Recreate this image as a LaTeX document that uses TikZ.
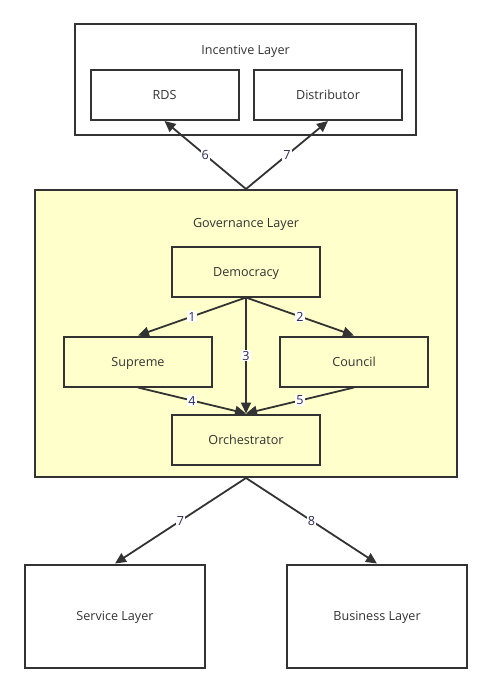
\documentclass[tikz,border=0pt]{standalone}
\usepackage{fontspec}
\setmainfont{Open Sans}
\usetikzlibrary{arrows.meta}
\definecolor{linecolor}{HTML}{333333}
\definecolor{govcolor}{HTML}{FFFFCC}

\begin{document}
\begin{tikzpicture}[
    x=1pt, y=-1pt,
    layer/.style={
        rectangle, draw=linecolor, line width=2pt, fill=#1, inner sep=0pt,
        text depth=0pt, font=\fontsize{12.6}{14}\selectfont, text=linecolor
    },
    module/.style={
        rectangle, draw=linecolor, line width=2pt, fill=#1, inner sep=0pt,
        minimum width=148pt, minimum height=50pt, text depth=0pt,
        font=\fontsize{12.6}{14}\selectfont, text=linecolor
    },
    layertitle/.style={
        text depth=0pt, font=\fontsize{12.6}{14}\selectfont, text=linecolor
    },
    flow/.style={
        -{Triangle[length=11pt, width=10pt]}, line width=1.8pt, color=linecolor
    },
    steplabel/.style={
        fill=white, inner sep=1pt, font=\fontsize{12.6}{14}\selectfont, text=linecolor!85!blue
    }
]
\useasboundingbox (0,0) rectangle (492,691);

% Incentive layer
\node[layer=white, minimum width=341pt, minimum height=111pt] (incentive) at (245.5,79.5) {};
\node[layertitle] (incentivetitle) at (245.5,50) {Incentive Layer};
\node[module=white] (rds) at (164.5,95) {RDS};
\node[module=white] (distributor) at (328,95) {Distributor};

% Governance layer
\node[layer=govcolor, minimum width=422pt, minimum height=287pt] (governance) at (246,333.5) {};
\node[layertitle] (governancetitle) at (246,223) {Governance Layer};
\node[module=govcolor] (democracy) at (246,271.5) {Democracy};
\node[module=govcolor] (supreme) at (138,361.5) {Supreme};
\node[module=govcolor] (council) at (354,361.5) {Council};
\node[module=govcolor] (orchestrator) at (246,439.5) {Orchestrator};

% Lower layers
\node[layer=white, minimum width=180pt, minimum height=103pt] (service) at (115,616) {Service Layer};
\node[layer=white, minimum width=180pt, minimum height=103pt] (business) at (377,616) {Business Layer};

% Governance to incentive
\draw[flow] (governance.north) -- (rds.south) node[steplabel, midway] {6};
\draw[flow] (governance.north) -- (distributor.south) node[steplabel, midway] {7};

% Inside governance
\draw[flow] (democracy.south) -- (supreme.north) node[steplabel, midway] {1};
\draw[flow] (democracy.south) -- (council.north) node[steplabel, midway] {2};
\draw[flow] (democracy.south) -- (orchestrator.north) node[steplabel, midway] {3};
\draw[flow] (supreme.south) -- (orchestrator.north) node[steplabel, midway] {4};
\draw[flow] (council.south) -- (orchestrator.north) node[steplabel, midway] {5};

% Governance to lower layers
\draw[flow] (governance.south) -- (service.north) node[steplabel, midway] {7};
\draw[flow] (governance.south) -- (business.north) node[steplabel, midway] {8};

\end{tikzpicture}
\end{document}
